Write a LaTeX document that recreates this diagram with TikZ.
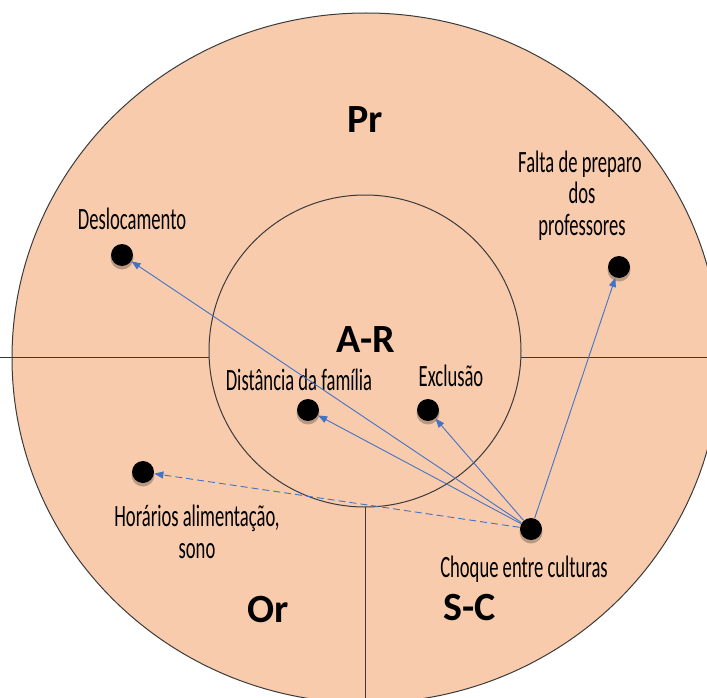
\documentclass[tikz,border=0pt]{standalone}
\usepackage{fontspec}
\setmainfont{Carlito}
\newfontfamily\lblfont[FakeStretch=0.6]{Carlito}
\usetikzlibrary{arrows.meta}
\definecolor{peach}{HTML}{F8CBAD}
\definecolor{arrblue}{HTML}{4472C4}
\definecolor{edge}{HTML}{3A3A3A}
\tikzset{
  dot/.style={circle, fill=black, minimum size=22pt, inner sep=0pt, outer sep=0.5pt},
  dotshadow/.style={circle, fill=black, opacity=0.25, minimum size=23pt, inner sep=0pt},
  lbl/.style={font=\lblfont\fontsize{31}{32}\selectfont, text=black, anchor=base, inner sep=0pt},
  big/.style={font=\fontsize{40}{42}\selectfont\bfseries, anchor=base, inner sep=0pt},
  arr/.style={draw=arrblue, line width=0.9pt, -{Triangle[length=9pt,width=7pt]}},
  divider/.style={draw=edge, line width=1pt},
}
\begin{document}
\begin{tikzpicture}[x=1pt,y=-1pt]
\useasboundingbox (0,0) rectangle (707,698);
\clip (0,0) rectangle (707,698);
% outer disc
\fill[peach] (366,358) ellipse [x radius=354, y radius=345];
\draw[divider] (366,358) ellipse [x radius=354, y radius=345];
% dividers
\draw[divider] (0,357) -- (209,357);
\draw[divider] (521,357) -- (707,357);
\draw[divider] (365,507) -- (365,710);
% inner circle
\draw[divider] (365,351) circle (156);
% region titles
\node[big] (pr) at (365,133) {Pr};
\node[big] (ar) at (366,352) {A-R};
\node[big] (or) at (268,622) {Or};
\node[big] (sc) at (470,620) {S-C};
% dot shadows
\foreach \p in {(122,258),(619,270),(308,413),(428,413),(143,475),(531,532)}
  \node[dotshadow] at \p {};
% dots
\node[dot] (desl) at (122,255) {};
\node[dot] (falta) at (619,267) {};
\node[dot] (dist) at (308,410) {};
\node[dot] (excl) at (428,410) {};
\node[dot] (hor) at (143,472) {};
\node[dot] (choq) at (531,529) {};
% labels
\node[lbl] (ldesl) at (132,229) {Deslocamento};
\node[lbl] (lfalta1) at (580,172) {Falta de preparo};
\node[lbl] (lfalta2) at (582,203) {dos};
\node[lbl] (lfalta3) at (582,235) {professores};
\node[lbl] (ldist) at (299,390) {Distância da família};
\node[lbl] (lexcl) at (451,386) {Exclusão};
\node[lbl] (lhor1) at (197,526) {Horários alimentação,};
\node[lbl] (lhor2) at (197,558) {sono};
\node[lbl] (lchoq) at (524,577) {Choque entre culturas};
% arrows
\draw[arr] (choq) -- (desl);
\draw[arr] (choq) -- (dist);
\draw[arr] (choq) -- (excl);
\draw[arr] (choq) -- (falta);
\draw[arr, dashed, dash pattern=on 7pt off 4pt] (choq) -- (hor);
\end{tikzpicture}
\end{document}
